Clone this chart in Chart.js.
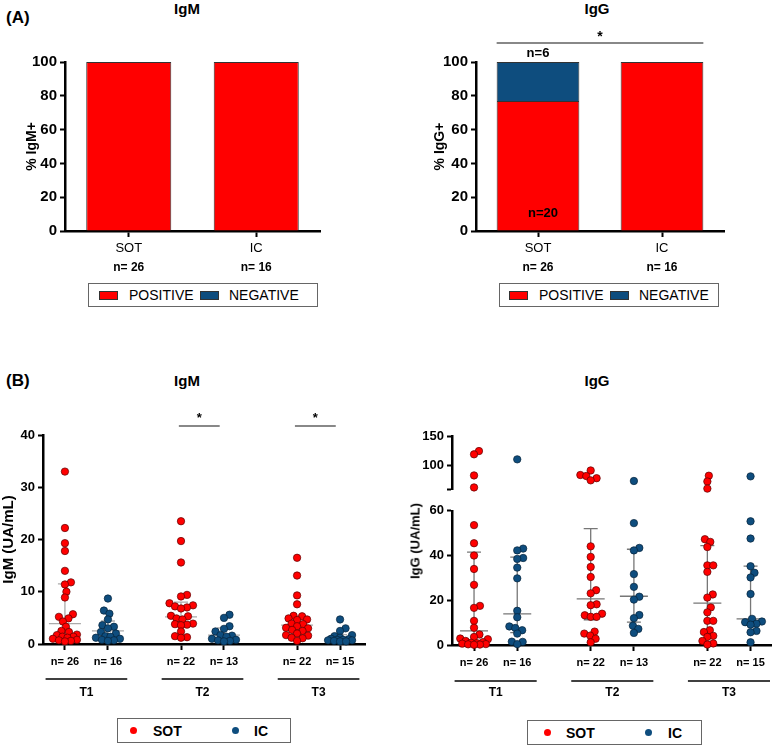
<!DOCTYPE html>
<html>
<head>
<meta charset="utf-8">
<script src="https://cdn.jsdelivr.net/npm/chart.js@4.4.1/dist/chart.umd.min.js"></script>
<style>
  body { margin: 0; background: #fff; font-family: "Liberation Sans", Arial, sans-serif; }
  #page { position: relative; width: 776px; height: 746px; overflow: hidden; }
  canvas { position: absolute; }
  .txt { position: absolute; font-weight: bold; color: #000; white-space: nowrap; line-height: 1; }
  .c { transform: translate(-50%, -50%); }
  .l { transform: translateY(-50%); }
  .legend { position: absolute; border: 1px solid #666; box-sizing: border-box; }
  .legend span { position: absolute; top: 50%; transform: translateY(-50%); white-space: nowrap; line-height: 1; }
  .sw { position: absolute; width: 19px; height: 9px; border: 1px solid #333; box-sizing: border-box; }
  .dot { position: absolute; width: 7px; height: 7px; border-radius: 50%; }
  .ytitle { position: absolute; font-weight: bold; font-size: 13px; white-space: nowrap; line-height: 1;
            transform: translate(-50%, -50%) rotate(-90deg); }
</style>
</head>
<body>
<div id="page">
  <div class="txt l" style="left:6px;top:17px;font-size:17px">(A)</div>
  <div class="txt c" style="left:187px;top:8px;font-size:15px">IgM</div>
  <div class="txt c" style="left:597px;top:8px;font-size:15px">IgG</div>
  <div class="txt l" style="left:6px;top:380px;font-size:17px">(B)</div>
  <div class="txt c" style="left:187px;top:380px;font-size:15px">IgM</div>
  <div class="txt c" style="left:597px;top:380px;font-size:15px">IgG</div>

  <canvas id="aIgM" width="340" height="280" style="left:0;top:0"></canvas>
  <canvas id="aIgG" width="386" height="280" style="left:390px;top:0"></canvas>
  <canvas id="bIgM" width="388" height="310" style="left:0;top:395px"></canvas>
  <canvas id="bIgGTop" width="386" height="100" style="left:390px;top:400px"></canvas>
  <canvas id="bIgGBot" width="386" height="205" style="left:390px;top:500px"></canvas>
  <div class="ytitle" style="left:415px;top:541px">IgG (UA/mL)</div>

  <div class="legend" style="left:88px;top:283px;width:230px;height:24px">
    <div class="sw" style="left:10px;top:7px;background:#ff0000"></div>
    <span style="left:40px;font-size:14px">POSITIVE</span>
    <div class="sw" style="left:111px;top:7px;background:#0e4d7e"></div>
    <span style="left:140px;font-size:14px">NEGATIVE</span>
  </div>
  <div class="legend" style="left:499px;top:283px;width:220px;height:24px">
    <div class="sw" style="left:9px;top:7px;background:#ff0000"></div>
    <span style="left:39px;font-size:14px">POSITIVE</span>
    <div class="sw" style="left:110px;top:7px;background:#0e4d7e"></div>
    <span style="left:139px;font-size:14px">NEGATIVE</span>
  </div>
  <div class="legend" style="left:117px;top:718px;width:174px;height:25px">
    <div class="dot" style="left:12px;top:8px;background:#ff0000"></div>
    <span style="left:35px;font-size:14px;font-weight:bold">SOT</span>
    <div class="dot" style="left:114px;top:8px;background:#0e4d7e"></div>
    <span style="left:136px;font-size:14px;font-weight:bold">IC</span>
  </div>
  <div class="legend" style="left:527px;top:720px;width:175px;height:25px">
    <div class="dot" style="left:16px;top:8px;background:#ff0000"></div>
    <span style="left:38px;font-size:14px;font-weight:bold">SOT</span>
    <div class="dot" style="left:117px;top:8px;background:#0e4d7e"></div>
    <span style="left:140px;font-size:14px;font-weight:bold">IC</span>
  </div>
</div>

<script>
// ---- data ----
const groups = ["SOT", "IC"];
const timepoints = ["T1", "T2", "T3"];
const nSOT = [26, 22, 22];
const nIC = [16, 13, 15];

// panel A: % positive / negative
const igmPositive = [100, 100];
const igmNegative = [0, 0];
const iggPositive = [76.9, 100];
const iggNegative = [23.1, 0];
const iggSotPosCount = 20;
const iggSotNegCount = 6;

// panel B: individual values (UA/mL), one list per timepoint
const igmSOT = [
  [33.0, 22.2, 19.3, 17.8, 14.0, 11.8, 11.4, 10.0, 8.9, 5.7, 5.2, 4.9, 4.3, 3.3, 2.5, 2.3, 1.8, 1.7, 1.4, 1.4, 1.2, 1.0, 0.8, 0.7, 0.6, 0.5],
  [23.5, 19.7, 15.6, 9.4, 9.1, 7.8, 7.4, 7.2, 7.0, 6.8, 5.4, 5.3, 4.9, 4.7, 3.9, 3.8, 3.7, 3.6, 2.4, 1.5, 1.3, 1.2],
  [16.5, 13.1, 9.3, 7.6, 5.4, 5.3, 4.9, 4.7, 4.6, 3.9, 3.8, 3.4, 3.1, 3.0, 2.7, 2.5, 2.0, 1.7, 1.6, 1.2, 1.1, 0.6]
];
const igmIC = [
  [8.7, 6.4, 5.8, 4.7, 3.6, 3.3, 3.0, 2.3, 2.0, 1.5, 1.4, 1.2, 1.0, 0.8, 0.7, 0.6],
  [5.6, 5.0, 3.4, 2.9, 2.4, 1.7, 1.6, 1.4, 1.0, 0.8, 0.7, 0.6, 0.5],
  [4.7, 3.0, 2.5, 1.7, 1.5, 1.2, 1.0, 0.9, 0.8, 0.8, 0.7, 0.7, 0.6, 0.5, 0.5]
];
const iggSOT = [
  [124.5, 119, 83.3, 63, 53.6, 45.5, 40.0, 34.0, 26.9, 17.5, 16.6, 10.8, 7.7, 4.7, 3.6, 2.9, 2.6, 1.8, 1.3, 1.0, 0.8, 0.6, 0.4, 0.3, 0.2, 0.1],
  [91.7, 84, 82.3, 78.6, 75, 44.1, 39.4, 34.9, 30.4, 24.5, 23.1, 18.2, 17.8, 14.0, 13.3, 12.6, 12.6, 6.0, 5.1, 4.2, 2.8, 1.2],
  [82.8, 73, 61, 47.3, 46.1, 43.8, 35.6, 35.6, 32.7, 22.6, 21.2, 16.8, 14.6, 10.8, 10.8, 6.6, 5.8, 4.1, 3.6, 1.8, 0.7, 0.2]
];
const iggIC = [
  [110.5, 43.1, 42.3, 38.9, 38.5, 34.6, 29.8, 15.3, 12.4, 8.3, 7.6, 6.6, 5.1, 1.5, 1.4, 0.4],
  [73.9, 54.5, 43.4, 42.3, 31.7, 26.0, 21.6, 20.3, 13.4, 12.0, 8.6, 7.2, 5.4],
  [81.7, 55.3, 47.6, 35.2, 32.3, 30.2, 22.8, 11.7, 10.5, 10.2, 9.5, 9.1, 6.3, 5.7, 1.2]
];

// median and interquartile range drawn as grey bars
const igmSOTMed = [3.9, 5.2, 3.6], igmSOTQ1 = [1.0, 3.6, 1.9], igmSOTQ3 = [11.5, 8.0, 5.0];
const igmICMed = [2.5, 1.7, 0.9], igmICQ1 = [0.9, 0.7, 0.6], igmICQ3 = [4.4, 3.1, 1.8];
const iggSOTMed = [6.3, 20.6, 18.7], iggSOTQ1 = [0.8, 11.3, 5.1], iggSOTQ3 = [41.5, 52, 44.4];
const iggICMed = [13.9, 21.8, 11.7], iggICQ1 = [5.5, 10.2, 8.8], iggICQ3 = [39.3, 42.8, 35.3];

// ---- styling ----
const RED = "#ff0000";
const BLUE = "#0e4d7e";
const FONT = '"Liberation Sans", Arial, sans-serif';
Chart.defaults.font.family = FONT;
Chart.defaults.color = "#000";

// x positions of the six columns: T1 SOT, T1 IC, T2 SOT, T2 IC, T3 SOT, T3 IC
const xPos = [1, 2, 3.7, 4.7, 6.4, 7.4];
const nLabels = [];
for (let t = 0; t < 3; t++) nLabels.push(`n= ${nSOT[t]}`, `n= ${nIC[t]}`);

const axisLine = { color: "#000", width: 2.5 };
const tickGrid = { drawOnChartArea: false, tickLength: 5, tickColor: "#000", tickWidth: 2 };

// ---------- panel A ----------
function barChart(id, pos, neg, o) {
  return new Chart(document.getElementById(id), {
    type: "bar",
    data: {
      labels: groups,
      datasets: [
        { data: pos, backgroundColor: RED, borderColor: "#333", borderWidth: 1,
          barPercentage: 0.667, categoryPercentage: 1 },
        { data: neg, backgroundColor: BLUE, borderColor: "#333", borderWidth: 1,
          barPercentage: 0.667, categoryPercentage: 1 }
      ]
    },
    options: {
      responsive: false, animation: false, events: [],
      layout: { padding: o.padding },
      plugins: { legend: { display: false }, tooltip: { enabled: false } },
      scales: {
        x: {
          stacked: true,
          grid: { ...tickGrid, offset: false, tickLength: 6 },
          border: axisLine,
          ticks: { font: { size: 13 }, padding: 4, maxRotation: 0 },
          afterFit: (s) => { s.height = 49; }
        },
        y: {
          stacked: true, min: 0, max: 100,
          grid: tickGrid,
          border: axisLine,
          ticks: { stepSize: 20, font: { size: 15, weight: "bold" }, padding: 3 },
          title: { display: true, text: o.yTitle, font: { size: 14, weight: "bold" }, padding: { top: 3, bottom: 0 } },
          afterFit: (s) => { s.width = o.yWidth; }
        }
      }
    },
    plugins: [{
      id: "nlab",
      afterDraw(chart) {
        const ctx = chart.ctx;
        const meta = chart.getDatasetMeta(0);
        ctx.save();
        ctx.font = `bold 12px ${FONT}`;
        ctx.fillStyle = "#000";
        ctx.textAlign = "center";
        ctx.textBaseline = "middle";
        meta.data.forEach((bar, i) => {
          ctx.fillText(`n= ${i === 0 ? nSOT[0] : nIC[0]}`, bar.x, chart.chartArea.bottom + 37);
        });
        ctx.restore();
      }
    }].concat(o.extra || [])
  });
}

barChart("aIgM", igmPositive, igmNegative, {
  padding: { top: 62, left: 21, right: 20, bottom: 0 }, yWidth: 44, yTitle: "% IgM+"
});

barChart("aIgG", iggPositive, iggNegative, {
  padding: { top: 62, left: 39, right: 52, bottom: 0 }, yWidth: 47, yTitle: "% IgG+",
  extra: [{
    id: "iggA",
    afterDraw(chart) {
      const ctx = chart.ctx;
      const top = chart.chartArea.top;
      const pos = chart.getDatasetMeta(0).data;
      const sot = pos[0], ic = pos[1];
      ctx.save();
      ctx.strokeStyle = "#888";
      ctx.lineWidth = 2;
      ctx.beginPath();
      ctx.moveTo(sot.x - sot.width / 2, top - 19);
      ctx.lineTo(ic.x + ic.width / 2, top - 19);
      ctx.stroke();
      ctx.fillStyle = "#000";
      ctx.textAlign = "center";
      ctx.textBaseline = "middle";
      ctx.font = `bold 14px ${FONT}`;
      ctx.fillText("*", (sot.x + ic.x) / 2, top - 25);
      ctx.font = `bold 13px ${FONT}`;
      ctx.fillText(`n=${iggSotNegCount}`, sot.x, top - 9);
      ctx.fillText(`n=${iggSotPosCount}`, sot.x + 5, chart.scales.y.getPixelForValue(0) - 18);
      ctx.restore();
    }
  }]
});

// ---------- panel B helpers ----------
// column-scatter layout: nudge points sideways, at most maxOff px from the column centre
function swarm(ys, r, maxOff) {
  const order = ys.map((y, i) => i).sort((a, b) => ys[b] - ys[a]);
  const placed = [];
  const out = new Array(ys.length);
  const dmin = 2 * r * 0.8;
  for (const i of order) {
    const y = ys[i];
    let best = 0, bestGap = -1;
    for (let k = 0; k * 0.5 <= maxOff; k++) {
      const cands = k === 0 ? [0] : [k * 0.5, -k * 0.5];
      let done = false;
      for (const off of cands) {
        const gap = placed.length ? Math.min(...placed.map((p) => Math.hypot(p.x - off, p.y - y))) : Infinity;
        if (gap >= dmin) { best = off; done = true; break; }
        if (gap > bestGap) { bestGap = gap; best = off; }
      }
      if (done) break;
    }
    out[i] = best;
    placed.push({ x: best, y });
  }
  return out;
}

function statsPlugin(stats, color, halfMed, halfCap) {
  return {
    id: "iqr",
    beforeDatasetsDraw(chart) {
      const { ctx, scales: { x, y } } = chart;
      ctx.save();
      ctx.strokeStyle = color;
      ctx.lineWidth = 1.3;
      stats.forEach((s) => {
        for (let t = 0; t < 3; t++) {
          const px = x.getPixelForValue(xPos[2 * t + s.col]);
          const m = y.getPixelForValue(s.med[t]);
          const lo = y.getPixelForValue(s.q1[t]);
          const hi = y.getPixelForValue(s.q3[t]);
          ctx.beginPath();
          ctx.moveTo(px - halfMed, m); ctx.lineTo(px + halfMed, m);
          ctx.moveTo(px, lo); ctx.lineTo(px, hi);
          ctx.moveTo(px - halfCap, lo); ctx.lineTo(px + halfCap, lo);
          ctx.moveTo(px - halfCap, hi); ctx.lineTo(px + halfCap, hi);
          ctx.stroke();
        }
      });
      ctx.restore();
    }
  };
}

function groupPlugin(lineGap, labelGap) {
  return {
    id: "groups",
    afterDraw(chart) {
      const { ctx, scales: { x }, chartArea } = chart;
      ctx.save();
      ctx.strokeStyle = "#000";
      ctx.lineWidth = 1.5;
      ctx.fillStyle = "#000";
      ctx.font = `bold 12px ${FONT}`;
      ctx.textAlign = "center";
      ctx.textBaseline = "middle";
      for (let t = 0; t < 3; t++) {
        const mid = (xPos[2 * t] + xPos[2 * t + 1]) / 2;
        const x0 = x.getPixelForValue(mid - 0.95), x1 = x.getPixelForValue(mid + 0.95);
        ctx.beginPath();
        ctx.moveTo(x0, chartArea.bottom + lineGap);
        ctx.lineTo(x1, chartArea.bottom + lineGap);
        ctx.stroke();
        ctx.fillText(timepoints[t], (x0 + x1) / 2, chartArea.bottom + labelGap);
      }
      ctx.restore();
    }
  };
}

function scatterChart(id, o) {
  const point = (color, border) => ({
    data: [], backgroundColor: color, borderColor: border, borderWidth: 0.7,
    pointRadius: 3.7, clip: false
  });
  return new Chart(document.getElementById(id), {
    type: "scatter",
    data: { datasets: [point(RED, "#5a0000"), point(BLUE, "#06233a")] },
    options: {
      responsive: false, animation: false, events: [],
      layout: { padding: o.padding },
      plugins: { legend: { display: false }, tooltip: { enabled: false } },
      scales: {
        x: {
          type: "linear", display: o.showX, min: 0.49, max: o.xMax,
          afterBuildTicks: (s) => { s.ticks = xPos.map((v) => ({ value: v })); },
          ticks: { callback: (v, i) => nLabels[i], font: { size: 11, weight: "bold" }, padding: 5, maxRotation: 0, autoSkip: false },
          grid: { ...tickGrid, tickLength: 6 },
          border: axisLine,
          afterFit: (s) => { s.height = o.xHeight; }
        },
        y: {
          min: o.yMin, max: o.yMax,
          afterBuildTicks: (s) => { s.ticks = o.yTicks.map((v) => ({ value: v })); },
          ticks: { callback: (v) => (o.hideTick === v ? "" : v), font: { size: 13, weight: "bold" }, padding: 3 },
          grid: tickGrid,
          border: axisLine,
          title: o.yTitle ? { display: true, text: o.yTitle, font: { size: 15, weight: "bold" }, padding: { top: 0, bottom: 0 } } : { display: false },
          afterFit: (s) => { s.width = o.yWidth; }
        }
      }
    },
    plugins: o.plugins || []
  });
}

// ---------- panel B, IgM ----------
const igmChart = scatterChart("bIgM", {
  padding: { top: 40, left: 0, right: 23, bottom: 0 }, showX: true, xMax: 7.98, xHeight: 61,
  yMin: 0, yMax: 40, yTicks: [0, 10, 20, 30, 40], yWidth: 43, yTitle: "IgM (UA/mL)",
  plugins: [
    statsPlugin([
      { col: 0, med: igmSOTMed, q1: igmSOTQ1, q3: igmSOTQ3 },
      { col: 1, med: igmICMed, q1: igmICQ1, q3: igmICQ3 }
    ], "#aaa", 16, 7),
    groupPlugin(35, 49),
    {
      id: "sig",
      afterDraw(chart) {
        const { ctx, scales: { x, y } } = chart;
        ctx.save();
        ctx.strokeStyle = "#888";
        ctx.lineWidth = 2;
        ctx.fillStyle = "#000";
        ctx.font = `bold 13px ${FONT}`;
        ctx.textAlign = "center";
        ctx.textBaseline = "middle";
        [1, 2].forEach((t) => {
          const x0 = x.getPixelForValue(xPos[2 * t] - 0.05);
          const x1 = x.getPixelForValue(xPos[2 * t + 1] - 0.1);
          const yy = y.getPixelForValue(41.7);
          ctx.beginPath();
          ctx.moveTo(x0, yy); ctx.lineTo(x1, yy); ctx.stroke();
          ctx.fillText("*", (x0 + x1) / 2, yy - 8);
        });
        ctx.restore();
      }
    }
  ]
});

(function () {
  const { x, y } = igmChart.scales;
  [igmSOT, igmIC].forEach((series, s) => {
    const pts = [];
    series.forEach((vals, t) => {
      const offs = swarm(vals.map((v) => y.getPixelForValue(v)), 3.7, 12);
      const cx = x.getPixelForValue(xPos[2 * t + s]);
      vals.forEach((v, i) => pts.push({ x: x.getValueForPixel(cx + offs[i]), y: v }));
    });
    igmChart.data.datasets[s].data = pts;
  });
  igmChart.update("none");
})();

// ---------- panel B, IgG (broken axis: two stacked charts) ----------
const BREAK = 60;
const iggTop = scatterChart("bIgGTop", {
  padding: { top: 36, left: 0, right: 0, bottom: 6 }, showX: false, xMax: 7.88, xHeight: 0,
  yMin: BREAK, yMax: 150, yTicks: [BREAK, 100, 150], hideTick: BREAK, yWidth: 62
});
const iggBot = scatterChart("bIgGBot", {
  padding: { top: 8, left: 0, right: 0, bottom: 0 }, showX: true, xMax: 7.88, xHeight: 60,
  yMin: 0, yMax: BREAK, yTicks: [0, 20, 40, 60], yWidth: 62,
  plugins: [
    statsPlugin([
      { col: 0, med: iggSOTMed, q1: iggSOTQ1, q3: iggSOTQ3 },
      { col: 1, med: iggICMed, q1: iggICQ1, q3: iggICQ3 }
    ], "#777", 14, 7),
    groupPlugin(36, 48)
  ]
});

(function () {
  const topOff = 400, botOff = 500;
  const x = iggBot.scales.x;
  [iggSOT, iggIC].forEach((series, s) => {
    const topPts = [], botPts = [];
    series.forEach((vals, t) => {
      const ys = vals.map((v) => v > BREAK
        ? topOff + iggTop.scales.y.getPixelForValue(v)
        : botOff + iggBot.scales.y.getPixelForValue(v));
      const offs = swarm(ys, 3.7, 14);
      const cx = x.getPixelForValue(xPos[2 * t + s]);
      vals.forEach((v, i) => {
        const p = { x: x.getValueForPixel(cx + offs[i]), y: v };
        (v > BREAK ? topPts : botPts).push(p);
      });
    });
    iggTop.data.datasets[s].data = topPts;
    iggBot.data.datasets[s].data = botPts;
  });
  iggTop.update("none");
  iggBot.update("none");
})();
</script>
</body>
</html>
